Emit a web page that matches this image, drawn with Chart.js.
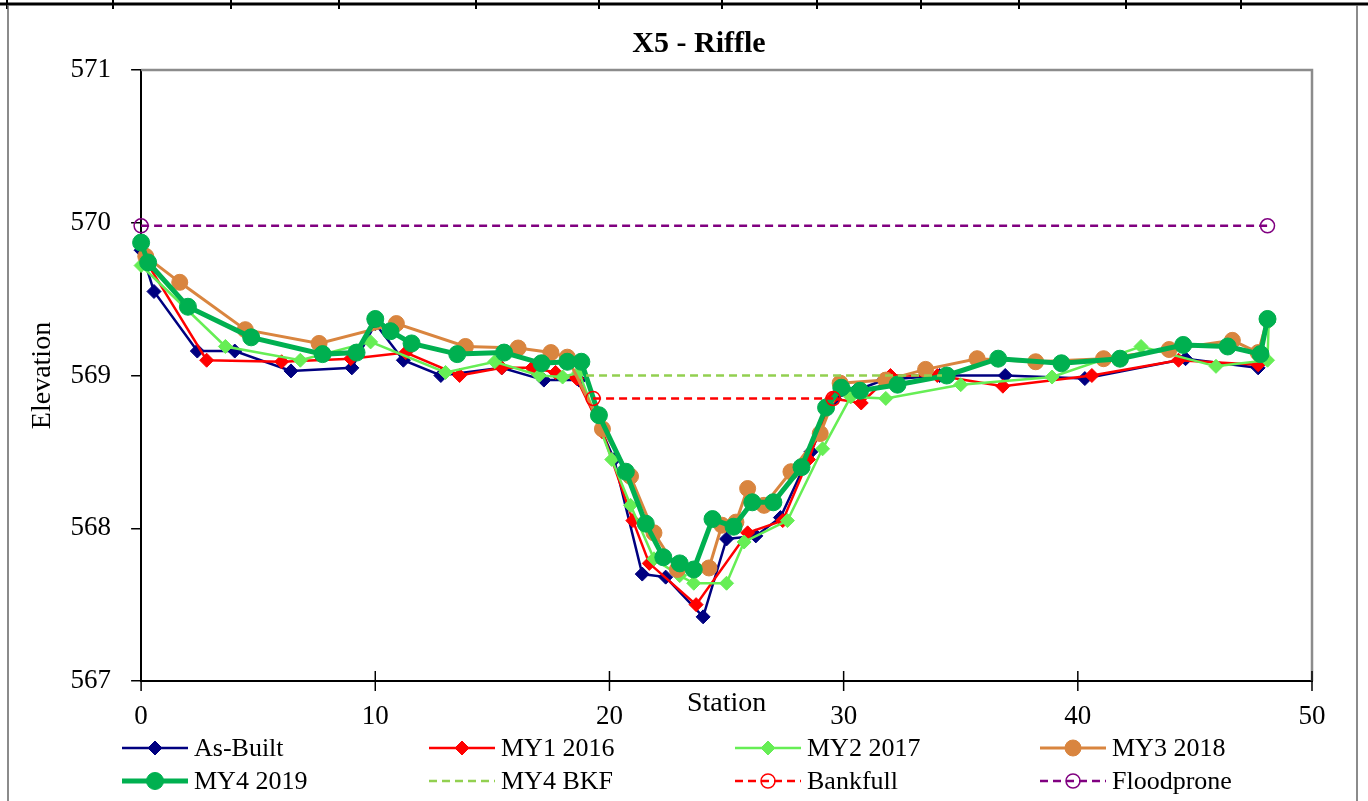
<!DOCTYPE html>
<html>
<head>
<meta charset="utf-8">
<script src="https://cdn.jsdelivr.net/npm/chart.js@4.4.1/dist/chart.umd.min.js"></script>
<style>
  html, body { margin: 0; padding: 0; background: #fff; }
  canvas { display: block; }
</style>
</head>
<body>
<canvas id="graficoSeccion" width="1368" height="801"></canvas>
<script>
const titulo = 'X5 - Riffle';
const ticksX = [0, 10, 20, 30, 40, 50];
const ticksY = [567, 568, 569, 570, 571];

const asBuiltX = [0, 0.55, 2.4, 4.0, 6.4, 9.0, 10.0, 11.2, 12.8, 15.4, 17.2, 18.7, 20.2, 21.4, 22.4, 24.0, 25.0, 26.25, 27.3, 28.6, 29.6, 30.5, 31.7, 34.1, 36.9, 40.3, 44.6, 47.7, 48.1];
const asBuiltY = [569.82, 569.55, 569.16, 569.16, 569.03, 569.05, 569.34, 569.10, 569.0, 569.05, 568.97, 568.97, 568.45, 567.70, 567.68, 567.42, 567.93, 567.95, 568.07, 568.5, 568.85, 568.9, 568.97, 569.0, 569.0, 568.98, 569.11, 569.05, 569.37];

const my1X = [0.2, 2.8, 6.0, 8.95, 11.3, 13.6, 15.4, 16.7, 17.7, 18.6, 19.7, 21.0, 21.7, 23.7, 25.9, 27.4, 28.5, 29.5, 30.75, 32.0, 34.0, 36.8, 40.6, 44.3, 47.7, 48.1];
const my1Y = [569.75, 569.1, 569.09, 569.11, 569.15, 569.0, 569.05, 569.05, 569.02, 568.98, 568.63, 568.05, 567.77, 567.5, 567.97, 568.05, 568.45, 568.85, 568.82, 569.0, 569.0, 568.93, 569.0, 569.1, 569.07, 569.35];

const my2X = [0, 3.6, 6.8, 9.8, 13.0, 15.1, 17.0, 18.0, 18.7, 20.1, 20.9, 21.9, 23.0, 23.6, 25.0, 25.75, 27.6, 29.1, 30.3, 31.8, 35.0, 38.9, 42.7, 45.9, 48.1, 48.15];
const my2Y = [569.72, 569.19, 569.1, 569.22, 569.02, 569.09, 569.0, 568.99, 569.02, 568.45, 568.15, 567.8, 567.69, 567.64, 567.64, 567.91, 568.05, 568.52, 568.86, 568.85, 568.94, 568.99, 569.19, 569.06, 569.1, 569.35];

const my3X = [0.2, 1.65, 4.45, 7.6, 10.9, 13.85, 16.1, 17.5, 18.2, 19.7, 20.9, 21.9, 22.9, 24.25, 24.8, 25.4, 25.9, 26.6, 27.75, 29.0, 29.85, 31.8, 33.5, 35.7, 38.2, 41.1, 43.9, 46.6, 47.7, 48.1];
const my3Y = [569.78, 569.61, 569.30, 569.21, 569.34, 569.19, 569.18, 569.15, 569.12, 568.65, 568.34, 567.97, 567.73, 567.74, 568.02, 568.04, 568.26, 568.15, 568.37, 568.62, 568.95, 568.97, 569.04, 569.11, 569.09, 569.11, 569.17, 569.23, 569.15, 569.37];

const my4X = [0, 0.3, 2.0, 4.7, 7.75, 9.2, 10.0, 10.65, 11.55, 13.5, 15.5, 17.1, 18.2, 18.8, 19.55, 20.7, 21.55, 22.3, 23.0, 23.6, 24.4, 25.3, 26.1, 27.0, 28.2, 29.25, 29.9, 30.7, 32.3, 34.4, 36.6, 39.3, 41.8, 44.5, 46.4, 47.8, 48.1];
const my4Y = [569.87, 569.74, 569.45, 569.25, 569.14, 569.15, 569.37, 569.29, 569.21, 569.14, 569.15, 569.08, 569.09, 569.09, 568.74, 568.37, 568.03, 567.81, 567.77, 567.73, 568.06, 568.01, 568.17, 568.17, 568.40, 568.79, 568.92, 568.9, 568.94, 569.0, 569.11, 569.08, 569.11, 569.2, 569.19, 569.14, 569.37];

const bkfX = [19.0, 34.2];
const bkfY = [569.0, 569.0];
const bankfullX = [19.3, 29.55];
const bankfullY = [568.85, 568.85];
const floodX = [0, 48.1];
const floodY = [569.98, 569.98];

const fuente = 'Liberation Serif, Times New Roman, serif';
const puntos = (xs, ys) => xs.map((x, i) => ({ x: x, y: ys[i] }));

function serie(label, xs, ys, color, ancho, estilo, radio, extra) {
    return Object.assign({
        label: label,
        data: puntos(xs, ys),
        showLine: true,
        borderColor: color,
        backgroundColor: color,
        borderWidth: ancho,
        pointStyle: estilo,
        pointRadius: radio,
        pointBorderWidth: 1,
        pointBorderColor: color,
        pointBackgroundColor: color,
        clip: false,
        tension: 0
    }, extra || {});
}

const datasets = [
    serie('As-Built', asBuiltX, asBuiltY, '#000080', 2.5, 'rectRot', 7, { order: 8 }),
    serie('MY1 2016', my1X, my1Y, '#FF0000', 2.5, 'rectRot', 7, { order: 7 }),
    serie('MY2 2017', my2X, my2Y, '#66EE55', 2.5, 'rectRot', 7, { order: 6 }),
    serie('MY3 2018', my3X, my3Y, '#D9853F', 3, 'circle', 8, { order: 5 }),
    serie('MY4 2019', my4X, my4Y, '#00B050', 5, 'circle', 8.5, { order: 4 }),
    serie('MY4 BKF', bkfX, bkfY, '#92D050', 2.5, 'circle', 0, { order: 3, borderDash: [8, 5] }),
    serie('Bankfull', bankfullX, bankfullY, '#FF0000', 2.5, 'circle', 7, { order: 2, borderDash: [8, 5], pointBackgroundColor: 'rgba(0,0,0,0)', pointBorderWidth: 1.5 }),
    serie('Floodprone', floodX, floodY, '#800080', 2.5, 'circle', 7, { order: 1, borderDash: [8, 5], pointBackgroundColor: 'rgba(0,0,0,0)', pointBorderWidth: 1.5 })
];

// Marco, titulo y leyenda al estilo de la hoja original
const decoracion = {
    id: 'decoracion',
    beforeDraw(chart) {
        const ctx = chart.ctx;
        ctx.save();
        ctx.fillStyle = '#fff';
        ctx.fillRect(0, 0, chart.width, chart.height);
        ctx.strokeStyle = '#000';
        ctx.lineWidth = 3;
        ctx.beginPath();
        ctx.moveTo(0, 4); ctx.lineTo(chart.width, 4);
        ctx.stroke();
        ctx.lineWidth = 2;
        [7, 113, 231, 339, 476, 599, 722, 817, 921, 1019, 1126, 1241].forEach(x => {
            ctx.beginPath(); ctx.moveTo(x, 0); ctx.lineTo(x, 9); ctx.stroke();
        });
        ctx.strokeStyle = '#666';
        ctx.lineWidth = 1.5;
        ctx.beginPath();
        ctx.moveTo(8, 5); ctx.lineTo(8, chart.height);
        ctx.moveTo(1357, 5); ctx.lineTo(1357, chart.height);
        ctx.stroke();
        ctx.restore();
    },
    beforeDatasetsDraw(chart) {
        const { ctx, chartArea: a, scales } = chart;
        ctx.save();
        ctx.strokeStyle = '#8c8c8c';
        ctx.lineWidth = 2.5;
        ctx.beginPath();
        ctx.moveTo(a.left, a.top); ctx.lineTo(a.right, a.top); ctx.lineTo(a.right, a.bottom);
        ctx.stroke();
        ctx.strokeStyle = '#000';
        ctx.lineWidth = 1.5;
        ticksX.forEach(v => {
            const px = scales.x.getPixelForValue(v);
            ctx.beginPath(); ctx.moveTo(px, a.bottom - 10); ctx.lineTo(px, a.bottom + 10); ctx.stroke();
        });
        ctx.restore();
    },
    afterDraw(chart) {
        const ctx = chart.ctx;
        ctx.save();
        ctx.fillStyle = '#000';
        ctx.font = 'bold 30px ' + fuente;
        ctx.textAlign = 'center';
        ctx.textBaseline = 'middle';
        ctx.fillText(titulo, 699, 44);

        const columnas = [122, 429, 735, 1040];
        const filas = [748, 781];
        ctx.font = '26px ' + fuente;
        ctx.textAlign = 'left';
        chart.data.datasets.forEach((ds, i) => {
            const x0 = columnas[i % 4];
            const y = filas[Math.floor(i / 4)];
            ctx.strokeStyle = ds.borderColor;
            ctx.lineWidth = ds.borderWidth;
            ctx.setLineDash(ds.borderDash || []);
            ctx.beginPath(); ctx.moveTo(x0, y); ctx.lineTo(x0 + 66, y); ctx.stroke();
            ctx.setLineDash([]);
            const cx = x0 + 33;
            const r = ds.pointRadius;
            if (r > 0) {
                ctx.beginPath();
                if (ds.pointStyle === 'rectRot') {
                    ctx.moveTo(cx, y - r); ctx.lineTo(cx + r, y); ctx.lineTo(cx, y + r); ctx.lineTo(cx - r, y); ctx.closePath();
                } else {
                    ctx.arc(cx, y, r, 0, Math.PI * 2);
                }
                ctx.fillStyle = ds.pointBackgroundColor;
                ctx.fill();
                ctx.lineWidth = ds.pointBorderWidth;
                ctx.strokeStyle = ds.pointBorderColor;
                ctx.stroke();
            }
            ctx.fillStyle = '#000';
            ctx.fillText(ds.label, x0 + 72, y + 1);
        });
        ctx.restore();
    }
};

new Chart(document.getElementById('graficoSeccion'), {
    type: 'scatter',
    data: { datasets: datasets },
    options: {
        responsive: false,
        animation: false,
        layout: { padding: { top: 70, left: 10, right: 56, bottom: 65 } },
        plugins: {
            legend: { display: false },
            tooltip: { enabled: false },
            title: { display: false }
        },
        scales: {
            x: {
                type: 'linear',
                min: ticksX[0],
                max: ticksX[ticksX.length - 1],
                afterBuildTicks: axis => { axis.ticks = ticksX.map(v => ({ value: v })); },
                grid: { display: false, drawTicks: false },
                border: { display: true, color: '#000', width: 2 },
                ticks: { color: '#000', font: { family: fuente, size: 27 }, padding: 20, maxRotation: 0 },
                title: { display: true, text: 'Station', color: '#000', font: { family: fuente, size: 28 }, padding: { top: -67, bottom: 16 } }
            },
            y: {
                type: 'linear',
                min: ticksY[0],
                max: ticksY[ticksY.length - 1],
                afterBuildTicks: axis => { axis.ticks = ticksY.map(v => ({ value: v })); },
                grid: { display: true, drawOnChartArea: false, drawTicks: true, tickLength: 10, color: '#000', lineWidth: 1.5 },
                border: { display: true, color: '#000', width: 2 },
                ticks: { color: '#000', font: { family: fuente, size: 27 }, padding: 20 },
                title: { display: true, text: 'Elevation', color: '#000', font: { family: fuente, size: 28 }, padding: { top: 16, bottom: -9 } }
            }
        }
    },
    plugins: [decoracion]
});
</script>
</body>
</html>
